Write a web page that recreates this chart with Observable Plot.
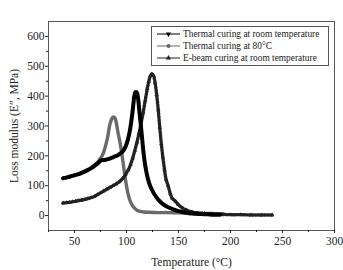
<!DOCTYPE html>
<html>
<head>
<meta charset="utf-8">
<script src="https://cdn.jsdelivr.net/npm/d3@7"></script>
<script src="https://cdn.jsdelivr.net/npm/@observablehq/plot@0.6"></script>
<style>
  html, body { margin: 0; padding: 0; background: #fff; }
  #wrap { position: relative; width: 343px; height: 270px; font-family: 'Liberation Serif', 'Times New Roman', 'DejaVu Serif', serif; }
  #wrap svg text { font-family: 'Liberation Serif', 'Times New Roman', 'DejaVu Serif', serif; }
  #legend { position: absolute; left: 151px; top: 26px; width: 178px; height: 40px; border: 1px solid #555; background: #fff; box-sizing: border-box; }
</style>
</head>
<body>
<div id="wrap"></div>
<script>
// Thermal curing at room temperature
const tRT = [39, 42, 45, 48, 51, 54, 57, 60, 63, 66, 69, 72, 74, 76, 78, 80, 83, 86, 89, 92, 95, 97, 99, 101, 103, 105, 106.5, 107.5, 108.5, 110, 111.2, 112.5, 114, 115.5, 117, 119, 121, 123, 126, 129, 132, 136, 140, 145, 150, 155, 160, 166, 172, 178, 184, 190];
const eRT = [125, 127, 130, 133, 136, 139, 143, 148, 153, 159, 166, 174, 180, 186, 186, 187, 190, 194, 198, 203, 210, 218, 230, 250, 280, 325, 370, 400, 413, 412, 390, 345, 295, 240, 192, 148, 118, 97, 76, 60, 48, 36, 28, 21, 15, 11, 8, 6, 5, 4, 3, 3];
// Thermal curing at 80°C
const t80 = [39, 42, 45, 48, 51, 54, 57, 60, 63, 66, 69, 72, 74, 76, 78, 80, 82, 84, 86, 87.5, 89, 90.5, 92, 94, 96, 98, 100, 102, 104, 106, 108, 110, 113, 117, 122, 130, 140, 150, 160, 170, 180, 193];
const e80 = [125, 127, 130, 133, 136, 139, 143, 148, 153, 160, 168, 178, 187, 197, 212, 235, 265, 305, 325, 330, 326, 305, 275, 240, 195, 145, 100, 65, 45, 32, 24, 18, 14, 12, 11, 10, 10, 9, 8, 7, 7, 6];
// E-beam curing at room temperature
const tEB = [39, 42, 45, 48, 51, 54, 57, 60, 63, 66, 69, 72, 75, 78, 81, 84, 87, 90, 93, 96, 99, 102, 104, 106, 108, 110, 112, 114, 116, 118, 120, 121.5, 123, 124.5, 126, 127.5, 129, 130.5, 132, 133.5, 135, 136.5, 138, 140, 142, 144, 147, 150, 154, 158, 163, 168, 175, 182, 190, 200, 210, 220, 230, 240];
const eEB = [42, 43, 44, 46, 48, 50, 52, 54, 57, 60, 64, 70, 76, 82, 88, 94, 100, 106, 113, 123, 137, 155, 172, 193, 218, 245, 275, 308, 345, 385, 425, 450, 468, 474, 468, 445, 405, 355, 295, 240, 195, 155, 122, 100, 75, 58, 48, 36, 25, 18, 12, 9, 7, 5, 4, 3, 3, 2, 2, 2];

const seriesNames = ["Thermal curing at room temperature", "Thermal curing at 80\u00B0C", "E-beam curing at room temperature"];
const xTicks = [50, 100, 150, 200, 250, 300];
const xMinor = [25, 75, 125, 175, 225, 275];
const yTicks = [0, 100, 200, 300, 400, 500, 600];
const yMinor = [-50, 50, 150, 250, 350, 450, 550, 650];

const serif = "'Liberation Serif', 'Times New Roman', 'DejaVu Serif', serif";
const rows = (ts, es) => ts.map((t, i) => ({t, e: es[i]}));
const dRT = rows(tRT, eRT), d80 = rows(t80, e80), dEB = rows(tEB, eEB);

const chart = Plot.plot({
  width: 343,
  height: 270,
  marginLeft: 48,
  marginRight: 9,
  marginTop: 21,
  marginBottom: 40,
  style: {fontFamily: serif, fontSize: "11.5px", color: "#222", background: "#fff"},
  x: {domain: [25, 300]},
  y: {domain: [-50, 650]},
  marks: [
    Plot.frame({stroke: "#555", strokeWidth: 1}),
    Plot.axisX({ticks: xTicks, tickSize: 3, tickPadding: 3, fontSize: 11.5, label: "Temperature (\u00B0C)", labelAnchor: "center", labelArrow: "none", labelOffset: 35}),
    Plot.axisX({ticks: xMinor, tickSize: 2, text: null, label: null}),
    Plot.axisY({ticks: yTicks, tickSize: 3, tickPadding: 1, fontSize: 11.5, label: "Loss modulus (E\u2033, MPa)", labelAnchor: "center", labelArrow: "none", labelOffset: 39}),
    Plot.axisY({ticks: yMinor.filter(v => v > -50 && v < 650), tickSize: 2, text: null, label: null}),
    // Thermal curing at 80°C (gray)
    Plot.line(d80, {x: "t", y: "e", stroke: "#6a6a6a", strokeWidth: 3.4, curve: "catmull-rom"}),
    // E-beam (dark, triangle markers)
    Plot.line(dEB, {x: "t", y: "e", stroke: "#222", strokeWidth: 1.3, curve: "catmull-rom"}),
    Plot.line(dEB, {x: "t", y: "e", stroke: "#222", strokeWidth: 3.4, strokeDasharray: "1.4,1.6", curve: "catmull-rom"}),
    Plot.dot(dEB, {x: "t", y: "e", symbol: "triangle", r: 1.6, fill: "#222", stroke: "none"}),
    // Thermal at room temperature (black)
    Plot.line(dRT, {x: "t", y: "e", stroke: "#000", strokeWidth: 4, curve: "catmull-rom"})
  ]
});

const wrap = document.getElementById("wrap");
wrap.appendChild(chart);

// Legend
const legendColors = ["#000", "#666", "#222"];
const legendSymbols = [d3.symbolTriangle, d3.symbolCircle, d3.symbolTriangle];
const legendRot = [180, 0, 0];
const leg = document.createElement("div");
leg.id = "legend";
wrap.appendChild(leg);
const svg = d3.select(leg).append("svg").attr("width", 176).attr("height", 38)
  .style("position", "absolute").style("left", "0px").style("top", "0px");
seriesNames.forEach((name, i) => {
  const y = 7 + i * 12;
  svg.append("line").attr("x1", 5).attr("x2", 28).attr("y1", y).attr("y2", y)
    .attr("stroke", legendColors[i]).attr("stroke-width", 1);
  svg.append("path").attr("d", d3.symbol(legendSymbols[i], 12)())
    .attr("transform", `translate(16.5,${y}) rotate(${legendRot[i]})`)
    .attr("fill", legendColors[i]);
  svg.append("text").attr("x", 31).attr("y", y).attr("dy", "0.35em")
    .style("font-family", serif).attr("font-size", 9.4)
    .attr("fill", "#222").text(name);
});
</script>
</body>
</html>
